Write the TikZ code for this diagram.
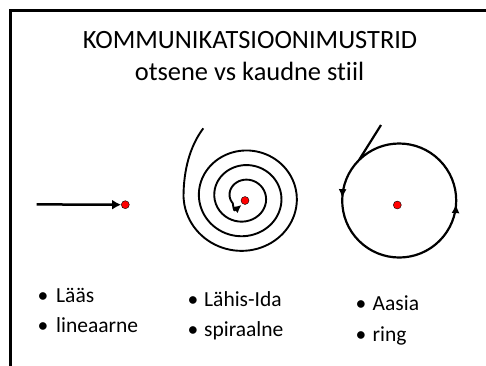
\documentclass[tikz,border=0pt]{standalone}
\usepackage{fontspec}
\setmainfont{Carlito}[Ligatures=NoCommon]
\usetikzlibrary{arrows.meta,decorations.markings,calc}
\begin{document}
\begin{tikzpicture}[x=1pt,y=1pt,
  frame/.style={line width=2.2pt,line cap=rect},
  redpt/.style={circle,fill=red,draw=black,line width=0.4pt,minimum size=8pt,inner sep=0pt},
  stroke/.style={line width=2.2pt},
  titletext/.style={anchor=base,inner sep=0pt,font=\fontsize{26.4}{30}\selectfont},
  itemtext/.style={anchor=base west,inner sep=0pt,font=\fontsize{21.5}{25}\selectfont},
  tip/.style={-{Latex[length=9pt,width=10pt]}}]
\useasboundingbox (0,0) rectangle (486,-365);
% frame
\coordinate (fa) at (10.5,-365);
\coordinate (fb) at (10.5,-10.5);
\coordinate (fc) at (486,-10.5);
\draw[frame] (fa) -- (fb) -- (fc);
% titles
\node[titletext] (t1) at (250,-48.3) {KOMMUNIKATSIOONIMUSTRID};
\node[titletext] (t2) at (249.5,-80.5) {otsene vs kaudne stiil};
% linear
\node[redpt] (d1) at (125.3,-204.7) {};
\coordinate (l0) at (36.7,-204.4);
\draw[line width=2.5pt,tip] (l0) -- (d1.west);
% spiral
\node[redpt] (d2) at (245,-200.5) {};
\coordinate (s0) at (203.3,-128.3);
\draw[line width=1.9pt,-{Latex[length=8pt,width=8pt]}] (s0) .. controls (190,-146) and (183.5,-170) .. (183.5,-197)
  -- plot[smooth,domain=180:1290,samples=140,variable=\t]
  ({244+(60.5-0.0428*(\t-180))*cos(\t)},{-197+0.95*(60.5-0.0428*(\t-180))*sin(\t)})
  .. controls (234,-211) .. (241.5,-205);
% ring
\node[redpt] (d3) at (397.3,-205) {};
\coordinate (r0) at (381,-125);
\coordinate (rc) at (399.2,-200.5);
\draw[stroke,
  decoration={markings,
    mark=at position 0.21 with {\arrow{Latex[length=9pt,width=8pt]}},
    mark=at position 0.655 with {\arrow{Latex[length=9pt,width=8pt]}}},
  postaction={decorate}]
  (r0) -- ($(rc)+(135:57)$) arc[start angle=135,end angle=495,radius=57];
% bullets
\node[itemtext] (b1) at (37.5,-302.5) {\makebox[18.5pt][l]{•}Lääs};
\node[itemtext] (b2) at (37.5,-332.5) {\makebox[18.5pt][l]{•}lineaarne};
\node[itemtext] (b3) at (187.5,-306) {\makebox[16.5pt][l]{•}Lähis-Ida};
\node[itemtext] (b4) at (187.5,-336) {\makebox[16.5pt][l]{•}spiraalne};
\node[itemtext] (b5) at (355.5,-310.5) {\makebox[17pt][l]{•}Aasia};
\node[itemtext] (b6) at (355.5,-341) {\makebox[17pt][l]{•}ring};
\end{tikzpicture}
\end{document}
